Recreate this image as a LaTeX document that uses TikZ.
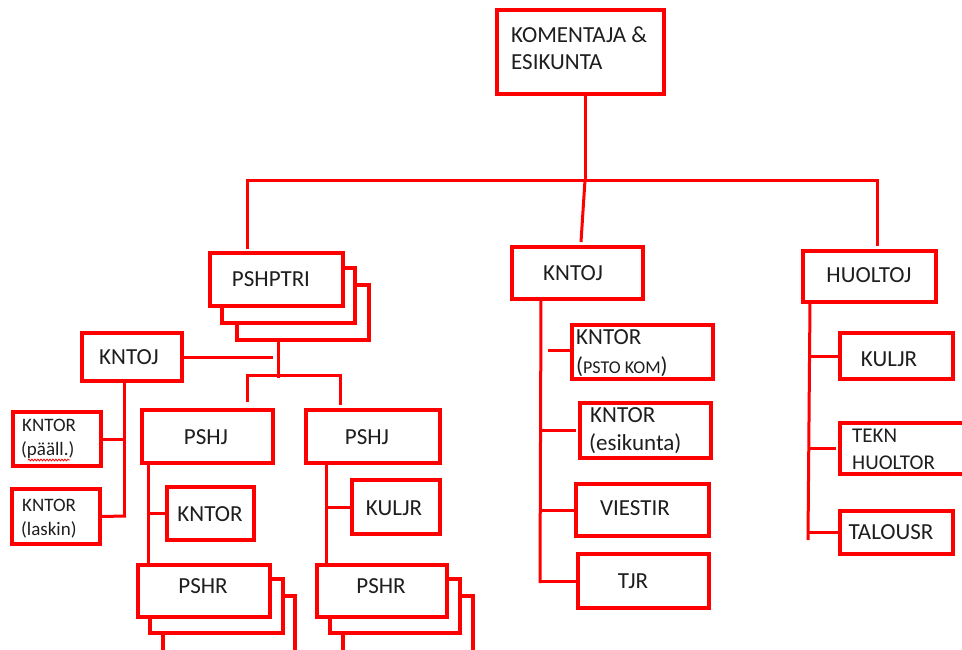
\documentclass[tikz,border=0pt]{standalone}
\usepackage{fontspec}
\setmainfont{Carlito}
\usetikzlibrary{decorations.pathmorphing}
\definecolor{ored}{RGB}{255,0,0}
\definecolor{otext}{RGB}{30,30,30}
\tikzset{
 obox/.style={draw=ored, line width=3.2pt, fill=white, inner sep=0pt, outer sep=0pt},
 conn/.style={draw=ored, line width=3pt},
 lbl/.style={text=otext, inner sep=0pt, font=\fontsize{23}{27}\selectfont},
 slbl/.style={text=otext, inner sep=0pt, font=\fontsize{19}{23}\selectfont},
 tlbl/.style={text=otext, inner sep=0pt, font=\fontsize{21}{25}\selectfont},
}
\newcommand\obx[5]{\node[obox, minimum width={(#4-#2)*1pt}, minimum height={(#5-#3)*1pt}] (#1) at ({(#2+#4)/2},{(#3+#5)/2}) {};}
\begin{document}
\begin{tikzpicture}[x=1pt,y=-1pt]
\clip (0,0) rectangle (962,649);
\fill[white] (0,0) rectangle (962,649);
% boxes
\obx{kom}{497}{10}{664}{94}
\obx{pshptriC}{237}{285}{369}{340}
\obx{pshptriB}{222}{268}{355}{323}
\obx{pshptri}{210}{253}{343}{306}
\obx{kntojL}{82}{333}{182}{381}
\obx{kntorP}{13}{412}{101}{466}
\obx{kntorL}{12}{489}{100}{544}
\obx{pshjL}{142}{410}{273}{463}
\obx{pshjR}{306}{410}{440}{463}
\obx{kntorM}{167}{487}{254}{540}
\obx{kuljrL}{352}{480}{440}{534}
\obx{pshrLC}{163}{596}{295}{665}
\obx{pshrLB}{150}{579}{283}{633}
\obx{pshrL}{138}{565}{270}{617}
\obx{pshrRC}{343}{596}{473}{665}
\obx{pshrRB}{330}{579}{460}{633}
\obx{pshrR}{317}{565}{447}{617}
\obx{kntojM}{512}{247}{643}{299}
\obx{kntorPS}{572}{325}{713}{379}
\obx{kntorE}{580}{403}{711}{458}
\obx{viestir}{576}{484}{709}{536}
\obx{tjr}{578}{554}{709}{608}
\obx{huoltoj}{803}{251}{936}{302}
\obx{kuljrR}{840}{333}{953}{379}
\obx{tekn}{840}{423}{975}{474}
\obx{talousr}{840}{511}{953}{554}
% texts
\node[lbl, anchor=base west] (t-kom1) at (511,42) {KOMENTAJA \&};
\node[lbl, anchor=base west] (t-kom2) at (511,69) {ESIKUNTA};
\node[lbl, anchor=base] (t-pshptri) at (271,286) {PSHPTRI};
\node[lbl, anchor=base] (t-kntojL) at (129,364) {KNTOJ};
\node[slbl, anchor=base west] (t-kntorP1) at (22,431) {KNTOR};
\node[slbl, anchor=base west] (t-kntorP2) at (21,455) {(pääll.)};
\node[slbl, anchor=base west] (t-kntorL1) at (22,511) {KNTOR};
\node[slbl, anchor=base west] (t-kntorL2) at (21,535) {(laskin)};
\node[lbl, anchor=base] (t-pshjL) at (206,444) {PSHJ};
\node[lbl, anchor=base] (t-pshjR) at (367,444) {PSHJ};
\node[lbl, anchor=base] (t-kntorM) at (210,521) {KNTOR};
\node[lbl, anchor=base] (t-kuljrL) at (394,515) {KULJR};
\node[lbl, anchor=base] (t-pshrL) at (203,593) {PSHR};
\node[lbl, anchor=base] (t-pshrR) at (381,593) {PSHR};
\node[lbl, anchor=base] (t-kntojM) at (573,280) {KNTOJ};
\node[lbl, anchor=base west] (t-kntorPS1) at (576,344) {KNTOR};
\node[lbl, anchor=base west] (t-kntorPS2) at (576,373) {({\fontsize{18}{20}\selectfont PSTO KOM})};
\node[lbl, anchor=base west] (t-kntorE1) at (590,422) {KNTOR};
\node[lbl, anchor=base west] (t-kntorE2) at (589,450) {(esikunta)};
\node[lbl, anchor=base] (t-viestir) at (635,515) {VIESTIR};
\node[lbl, anchor=base] (t-tjr) at (633,588) {TJR};
\node[lbl, anchor=base] (t-huoltoj) at (869,282) {HUOLTOJ};
\node[lbl, anchor=base] (t-kuljrR) at (889,366) {KULJR};
\node[tlbl, anchor=base west] (t-tekn1) at (852,442) {TEKN};
\node[tlbl, anchor=base west] (t-tekn2) at (852,469) {HUOLTOR};
\node[lbl, anchor=base] (t-talousr) at (891,539) {TALOUSR};
% spell-check squiggle
\draw[ored, line width=0.8pt, decorate, decoration={snake, amplitude=0.9pt, segment length=3pt}] (28,460) -- (70,460);
% connector coordinates
\coordinate (t0) at (585,180);
\coordinate (bl) at (247,180);
\coordinate (br) at (877,180);
\coordinate (blend) at (247,249);
\coordinate (brend) at (877,246);
\coordinate (mend) at (581,242);
\coordinate (p0) at (278,378);
\coordinate (pk) at (273,357);
\coordinate (pj1) at (247,402);
\coordinate (pj2) at (247,375);
\coordinate (pj3) at (340,375);
\coordinate (pj4) at (340,405);
\coordinate (k0) at (124,517);
\coordinate (kL) at (126,516);
\coordinate (lv) at (148,0);
\coordinate (rv) at (326,0);
\coordinate (mv0) at (541,0);
\coordinate (mvend) at (540,583);
\coordinate (b1) at (548,350);
\coordinate (hv0) at (810,0);
\coordinate (hvend) at (808,540);
% connectors
\draw[conn] (kom.south -| t0) -- (t0);
\draw[conn] (blend) -- (bl) -- (br) -- (brend);
\draw[conn] (t0) -- (mend);
\draw[conn] (pshptriC.south -| p0) -- (p0);
\draw[conn] (kntojL.east) -- (pk);
\draw[conn] (pj1) -- (pj2) -- (pj3) -- (pj4);
\draw[conn] (kntojL.south -| k0) -- (k0);
\draw[conn] (kntorP.east) -- (kntorP.east -| k0);
\draw[conn] (kntorL.east) -- (kL);
\draw[conn] (pshjL.south -| lv) -- (pshrL.north -| lv);
\draw[conn] (kntorM.west) -- (kntorM.west -| lv);
\draw[conn] (pshjR.south -| rv) -- (pshrR.north -| rv);
\draw[conn] (kuljrL.west) -- (kuljrL.west -| rv);
\draw[conn] (kntojM.south -| mv0) -- (mvend);
\draw[conn] (kntorPS.west |- b1) -- (b1);
\draw[conn] ([xshift=-4pt]kntorE.west) -- (kntorE.west -| mv0);
\draw[conn] (viestir.west) -- (viestir.west -| mv0);
\draw[conn] (tjr.west) -- (tjr.west -| mvend);
\draw[conn] (huoltoj.south -| hv0) -- (hvend);
\draw[conn] (kuljrR.west) -- (kuljrR.west -| hv0);
\draw[conn] ([xshift=-4pt]tekn.west) -- (tekn.west -| hv0);
\draw[conn] (talousr.west) -- (talousr.west -| hvend);
\end{tikzpicture}
\end{document}
